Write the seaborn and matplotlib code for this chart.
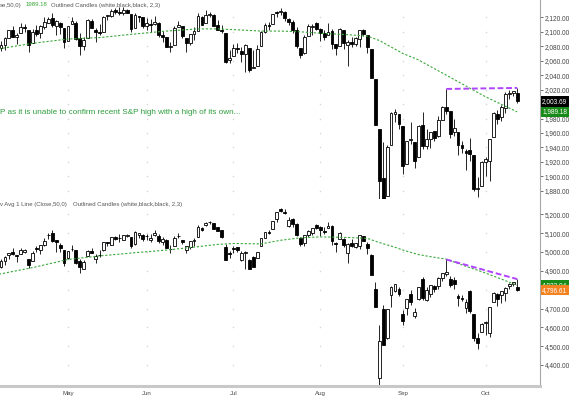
import numpy as np
import pandas as pd
import seaborn as sns
import matplotlib.pyplot as plt
from matplotlib.transforms import blended_transform_factory

# trading days shown (first one falls just off the left edge)
holidays = ['2015-05-25', '2015-07-03', '2015-09-07']

# ---- S&P 500 daily OHLC (Apr 7 .. Oct 13, 2015)
spx_open = [
    2080.8, 2076.9, 2081.3, 2091.5, 2102.0, 2092.3, 2097.8, 2106.0, 2102.6, 2084.1, 2102.8, 2098.3, 2107.2, 2112.8, 2119.3, 2108.4, 2112.5, 2105.5,
    2087.4, 2110.2, 2112.6, 2091.3, 2080.0, 2092.1, 2115.6, 2102.9, 2099.6, 2100.4, 2122.1, 2121.3, 2129.5, 2127.8, 2125.6, 2130.4, 2125.3, 2105.1, 2122.3, 2120.7,
    2108.6, 2110.4, 2110.6, 2112.4, 2095.1, 2092.3, 2079.1, 2081.1, 2106.2, 2107.4, 2091.3, 2084.3, 2097.4, 2101.6, 2121.1, 2112.5, 2123.2, 2123.7, 2110.0, 2102.6, 2098.6, 2061.2,
    2067.0, 2078.0, 2074.0, 2069.5, 2077.7, 2049.7, 2052.7, 2080.0, 2099.7, 2109.0, 2110.6, 2126.8, 2126.9, 2127.6, 2118.2, 2114.2, 2102.2, 2078.2, 2070.8, 2094.7, 2106.8, 2111.6,
    2104.5, 2097.7, 2095.3, 2100.8, 2082.6, 2081.0, 2102.7, 2081.1, 2086.2, 2083.2, 2089.7, 2102.0, 2095.7, 2076.6, 2034.1, 1965.2, 1898.1, 1872.8, 1942.8, 1986.1, 1986.7,
    1970.1, 1916.5, 1950.8, 1947.8, 1927.3, 1971.5, 1941.6, 1951.5, 1963.1, 1955.1, 1978.0, 1995.3, 1989.7, 1960.8, 1961.4, 1943.2, 1934.8, 1935.9, 1929.2, 1881.9, 1887.1,
    1919.7, 1921.8, 1954.3, 1986.6, 1982.3, 1994.0, 2013.7, 2015.7, 2015.0]
spx_high = [
    2089.8, 2086.7, 2093.3, 2102.6, 2107.7, 2098.6, 2111.9, 2111.3, 2102.6, 2103.9, 2109.6, 2110.0, 2120.5, 2120.9, 2125.9, 2116.0, 2113.7, 2105.5,
    2108.4, 2121.0, 2115.2, 2098.4, 2092.9, 2117.7, 2117.7, 2105.1, 2110.2, 2121.5, 2123.9, 2131.8, 2133.0, 2134.7, 2134.3, 2132.2, 2125.3, 2126.2, 2122.3, 2120.7,
    2119.2, 2117.6, 2121.9, 2112.9, 2101.0, 2093.0, 2085.6, 2108.5, 2115.0, 2107.4, 2091.3, 2097.4, 2106.8, 2126.7, 2121.6, 2129.9, 2128.0, 2125.1, 2116.0, 2108.9, 2098.6, 2074.3,
    2082.8, 2085.1, 2078.6, 2083.7, 2077.7, 2074.3, 2081.3, 2100.7, 2112.0, 2114.1, 2124.4, 2128.9, 2132.8, 2128.5, 2118.5, 2116.9, 2106.0, 2078.2, 2095.6, 2110.6, 2110.5, 2114.2,
    2105.7, 2102.5, 2112.7, 2103.3, 2082.6, 2105.4, 2102.7, 2089.1, 2092.9, 2092.5, 2102.9, 2103.5, 2096.2, 2076.6, 2034.1, 1965.2, 1948.0, 1943.1, 1989.6, 1993.5, 1986.7,
    1970.1, 1948.9, 1975.0, 1947.8, 1970.4, 1988.6, 1965.3, 1961.1, 1963.1, 1983.2, 1997.3, 2020.9, 1989.7, 1979.6, 1961.4, 1949.5, 1937.2, 1952.9, 1929.2, 1899.5, 1920.5,
    1927.2, 1951.4, 1989.2, 1991.6, 1999.3, 2016.5, 2020.1, 2018.7, 2022.3]
spx_low = [
    2076.1, 2073.3, 2074.3, 2091.5, 2092.3, 2083.2, 2097.8, 2100.0, 2072.4, 2084.1, 2094.4, 2091.1, 2103.2, 2112.8, 2107.0, 2094.9, 2097.4, 2077.6,
    2087.4, 2110.2, 2088.5, 2067.9, 2075.0, 2092.1, 2104.6, 2085.6, 2096.0, 2100.4, 2116.8, 2120.0, 2124.5, 2122.6, 2123.0, 2126.1, 2099.2, 2105.1, 2112.9, 2104.9,
    2102.5, 2099.1, 2109.6, 2093.2, 2085.7, 2079.1, 2072.1, 2081.1, 2106.2, 2091.3, 2072.5, 2082.1, 2088.9, 2101.6, 2109.5, 2112.5, 2119.9, 2108.6, 2101.8, 2098.1, 2056.6, 2056.3,
    2067.0, 2071.0, 2058.4, 2044.0, 2044.7, 2049.7, 2052.7, 2080.0, 2098.2, 2102.5, 2110.6, 2119.9, 2123.7, 2115.4, 2110.0, 2098.6, 2077.1, 2063.5, 2069.1, 2094.1, 2095.0, 2102.1,
    2087.3, 2088.6, 2095.3, 2075.5, 2067.9, 2081.0, 2076.5, 2052.1, 2078.3, 2080.6, 2079.3, 2094.1, 2070.5, 2035.7, 1970.9, 1867.0, 1867.1, 1872.8, 1942.8, 1975.2, 1966.0,
    1903.1, 1916.5, 1944.7, 1911.2, 1927.3, 1937.9, 1937.2, 1939.2, 1948.3, 1954.3, 1977.9, 1986.7, 1953.5, 1955.8, 1929.2, 1932.6, 1908.9, 1921.5, 1879.2, 1871.9, 1887.1,
    1900.7, 1893.7, 1954.3, 1972.0, 1976.4, 1987.5, 2007.6, 2010.6, 2001.8]
spx_close = [
    2076.33, 2081.90, 2091.18, 2102.06, 2092.43, 2095.84, 2106.63, 2104.99, 2081.18, 2100.40, 2097.29, 2107.96, 2112.93, 2117.69, 2108.92, 2114.76, 2106.85, 2085.51,
    2108.29, 2114.49, 2089.46, 2080.15, 2088.00, 2116.10, 2105.33, 2099.12, 2098.48, 2121.10, 2122.73, 2129.20, 2127.83, 2125.85, 2130.82, 2126.06, 2104.20, 2123.48, 2120.79, 2107.39,
    2111.73, 2109.60, 2114.07, 2095.84, 2092.83, 2079.28, 2080.15, 2105.20, 2108.86, 2094.11, 2084.43, 2096.29, 2100.44, 2121.24, 2109.99, 2122.85, 2124.20, 2108.58, 2102.31, 2101.49, 2057.64, 2063.11,
    2077.42, 2076.78, 2068.76, 2081.34, 2046.68, 2051.31, 2076.62, 2099.60, 2108.95, 2107.40, 2124.29, 2126.64, 2128.28, 2119.21, 2114.15, 2102.15, 2079.65, 2067.64, 2093.25, 2108.57, 2108.63, 2103.84,
    2098.04, 2093.32, 2099.84, 2083.56, 2077.57, 2104.18, 2084.07, 2086.05, 2083.39, 2091.54, 2102.44, 2096.92, 2079.61, 2035.73, 1970.89, 1893.21, 1867.61, 1940.51, 1987.66, 1988.87, 1972.18,
    1913.85, 1948.86, 1951.13, 1921.22, 1969.41, 1942.04, 1952.29, 1961.05, 1953.03, 1978.09, 1995.31, 1990.20, 1958.03, 1966.97, 1942.74, 1938.76, 1932.24, 1931.34, 1881.77, 1884.09, 1920.03,
    1923.82, 1951.36, 1987.05, 1979.92, 1995.83, 2013.43, 2014.89, 2017.46, 2003.69]

# ---- Nasdaq Composite daily OHLC
comp_open = [
    4923, 4918, 4950, 4983, 4999, 4983, 4989, 4998, 4961, 4953, 5019, 5013, 5036, 5089, 5101, 5062, 5036, 5011,
    4967, 5017, 5008, 4952, 4911, 4978, 5003, 4963, 4982, 5008, 5053, 5039, 5078, 5072, 5066, 5087, 5077, 5041, 5092, 5092,
    5085, 5066, 5088, 5083, 5052, 5066, 5016, 5030, 5086, 5061, 5013, 5027, 5057, 5081, 5128, 5143, 5160, 5152, 5130, 5115, 5027, 4996,
    5023, 5024, 4958, 4994, 4957, 4972, 4968, 5033, 5074, 5105, 5124, 5176, 5229, 5212, 5138, 5177, 5148, 5073, 5049, 5091, 5100, 5142,
    5133, 5110, 5125, 5140, 5050, 5070, 5068, 4997, 5046, 5026, 5034, 5084, 5044, 4982, 4805, 4330, 4696, 4545, 4771, 4793, 4802,
    4671, 4701, 4776, 4662, 4752, 4859, 4745, 4775, 4822, 4820, 4862, 4885, 4856, 4852, 4766, 4758, 4703, 4793, 4672, 4546, 4577,
    4625, 4571, 4734, 4776, 4769, 4781, 4818, 4829, 4816]
comp_high = [
    4947, 4962, 4978, 4996, 5020, 4986, 5022, 5017, 4961, 5003, 5032, 5039, 5073, 5100, 5119, 5065, 5049, 5011,
    5005, 5037, 5010, 4963, 4957, 5008, 5021, 4990, 5009, 5051, 5054, 5082, 5085, 5093, 5092, 5097, 5077, 5109, 5099, 5093,
    5093, 5096, 5117, 5094, 5078, 5069, 5036, 5084, 5099, 5064, 5032, 5059, 5075, 5143, 5133, 5161, 5164, 5156, 5134, 5119, 5040, 5007,
    5032, 5025, 5003, 5004, 4960, 4976, 5000, 5072, 5107, 5118, 5164, 5211, 5231, 5230, 5186, 5180, 5155, 5078, 5091, 5116, 5129, 5148,
    5136, 5132, 5161, 5142, 5051, 5104, 5073, 5047, 5068, 5050, 5092, 5085, 5054, 4990, 4841, 4611, 4719, 4698, 4817, 4830, 4813,
    4691, 4750, 4798, 4701, 4812, 4868, 4812, 4822, 4825, 4867, 4890, 4960, 4871, 4869, 4777, 4773, 4749, 4798, 4673, 4570, 4622,
    4632, 4708, 4785, 4780, 4794, 4812, 4837, 4840, 4856]
comp_low = [
    4909, 4915, 4933, 4963, 4986, 4949, 4988, 4994, 4914, 4953, 4999, 4991, 5033, 5069, 5053, 4999, 5002, 4923,
    4961, 5007, 4938, 4886, 4908, 4977, 4993, 4942, 4973, 5007, 5033, 5037, 5063, 5054, 5062, 5081, 5019, 5039, 5075, 5060,
    5061, 5055, 5086, 5045, 5037, 5020, 4996, 5030, 5074, 5044, 4994, 5016, 5033, 5080, 5111, 5140, 5148, 5122, 5112, 5076, 4958, 4969,
    4996, 4998, 4951, 4910, 4908, 4920, 4968, 5033, 5074, 5093, 5124, 5158, 5210, 5202, 5135, 5135, 5085, 5030, 5034, 5082, 5089, 5124,
    5084, 5094, 5125, 5036, 5000, 5070, 5025, 4943, 5025, 5023, 5015, 5059, 4988, 4877, 4706, 4292, 4506, 4538, 4710, 4787, 4764,
    4615, 4665, 4716, 4652, 4744, 4747, 4738, 4762, 4785, 4803, 4845, 4874, 4814, 4804, 4715, 4740, 4675, 4677, 4530, 4487, 4577,
    4557, 4551, 4734, 4711, 4727, 4740, 4804, 4821, 4794]
comp_close = [
    4910.23, 4950.82, 4974.56, 4995.98, 4988.25, 4977.29, 5011.02, 5007.79, 4931.81, 4994.60, 5014.10, 5035.17, 5056.06, 5092.08, 5060.25, 5055.42, 5023.64, 4941.42,
    5005.39, 5016.93, 4939.33, 4919.64, 4945.54, 5003.55, 4993.57, 4976.19, 4981.69, 5050.80, 5048.29, 5078.44, 5070.03, 5071.74, 5090.79, 5089.36, 5032.75, 5106.59, 5097.98, 5070.03,
    5082.93, 5076.69, 5099.23, 5059.12, 5068.46, 5021.63, 5013.87, 5076.52, 5082.51, 5051.10, 5029.97, 5055.55, 5064.88, 5132.95, 5117.00, 5153.97, 5160.09, 5122.41, 5112.19, 5080.51, 4958.47, 4986.87,
    5013.12, 5009.21, 4991.94, 4997.46, 4909.76, 4922.40, 4997.70, 5071.51, 5104.89, 5098.94, 5163.18, 5210.14, 5218.86, 5208.12, 5171.77, 5146.41, 5088.63, 5039.78, 5089.21, 5111.73, 5128.79, 5128.28,
    5115.38, 5105.55, 5139.94, 5056.44, 5043.54, 5101.80, 5036.79, 5044.39, 5033.56, 5048.24, 5091.70, 5059.35, 5019.05, 4877.49, 4706.04, 4526.25, 4506.49, 4697.54, 4812.71, 4828.33, 4776.51,
    4636.10, 4749.98, 4733.50, 4683.92, 4811.93, 4756.53, 4796.25, 4822.34, 4805.76, 4860.52, 4889.24, 4893.95, 4827.23, 4828.95, 4756.72, 4752.74, 4734.48, 4686.50, 4543.97, 4517.32, 4620.16,
    4627.08, 4707.78, 4781.26, 4748.36, 4791.15, 4810.79, 4830.47, 4838.64, 4796.61]

# 50-day moving averages at these dates
ma_dates = ['2015-04-07', '2015-04-20', '2015-05-01', '2015-05-13', '2015-05-27', '2015-06-08',
            '2015-06-18', '2015-06-25', '2015-07-01', '2015-07-13', '2015-07-20', '2015-07-27',
            '2015-08-03', '2015-08-12', '2015-08-19', '2015-08-24', '2015-08-28', '2015-09-01',
            '2015-09-08', '2015-09-11', '2015-09-17', '2015-09-24', '2015-10-01', '2015-10-08',
            '2015-10-13']
spx_ma = [2076, 2084, 2090, 2092, 2097, 2101, 2104, 2104, 2103, 2101, 2101, 2100, 2098,
          2096, 2094, 2088, 2076, 2070, 2061, 2052, 2040, 2025, 2010, 1997, 1989.18]
comp_ma = [4880, 4917, 4960, 4979, 4996, 5010, 5028, 5040, 5045, 5043, 5062, 5075, 5080,
           5077, 5072, 5050, 5025, 5010, 4986, 4975, 4962, 4924, 4888, 4848, 4823.04]

# trendline: Sep 17 high to latest high
trend_dates = ['2015-09-17', '2015-10-13']

spx_ticks = [1880, 1900, 1920, 1940, 1960, 1980, 2000, 2020, 2040, 2060, 2080, 2100, 2120]
comp_ticks = [4400, 4500, 4600, 4700, 4800, 4900, 5000, 5100, 5200]
# levels whose labels sit under the last-price tags
spx_hidden = [2000]
comp_hidden = [4800]

for arr in (spx_open, spx_high, spx_low, spx_close, comp_open, comp_high, comp_low, comp_close):
    assert len(arr) == 133, len(arr)

days = pd.bdate_range('2015-04-07', '2015-10-13')
days = days[~days.isin(pd.to_datetime(holidays))]

sns.set_theme(style='white')
plt.rcParams['font.family'] = ['Liberation Sans', 'DejaVu Sans']

W, H = 569, 398
fig = plt.figure(figsize=(W / 100, H / 100), dpi=100)
ax1 = fig.add_axes([0, (H - 199) / H, 540 / W, 199 / H])
ax2 = fig.add_axes([0, (H - 386) / H, 540 / W, (386 - 199) / H])

ma_green = '#3aa83a'
purple = '#b044ff'
grey_txt = '#444444'

month_pos = np.where(days.month[1:] != days.month[:-1])[0] + 1
step = np.diff(month_pos).mean() / 5
minor_pos = []
for a, b in zip(month_pos[:-1], month_pos[1:]):
    minor_pos += list(np.linspace(a, b, 6)[1:-1])
minor_pos += [month_pos[0] - k * step for k in range(1, 5)]
minor_pos += [month_pos[-1] + k * step for k in range(1, 4)]


def candles(ax, o, h, l, c):
    o, h, l, c = map(np.asarray, (o, h, l, c))
    x = np.arange(len(c))
    up = c >= o
    ax.vlines(x, l, h, color='black', lw=0.6, zorder=2)
    ax.bar(x, c - o, bottom=o, width=0.72,
           color=np.where(up, 'white', 'black'), edgecolor='black',
           linewidth=0.6, zorder=3)


def panel(ax, o, h, l, c, ma, ticks, hidden, ylim):
    candles(ax, o, h, l, c)
    ma_x = days.get_indexer(pd.to_datetime(ma_dates))
    sns.lineplot(x=ma_x, y=ma, ax=ax, color=ma_green, lw=0.8,
                 linestyle=(0, (2, 1.6)), zorder=4)
    tx = days.get_indexer(pd.to_datetime(trend_dates))
    sns.lineplot(x=tx, y=np.asarray(h)[tx], ax=ax, color=purple, lw=1.4,
                 linestyle=(0, (3, 1.4)), zorder=5)

    ax.set_xlim(0.74, 137.8)
    ax.set_ylim(*ylim)
    # faint grid marks where month lines meet price levels
    gx, gy = np.meshgrid(month_pos, ticks)
    ax.scatter(gx.ravel(), gy.ravel(), marker='+', s=2.5, lw=0.4,
               color='#d9d9d9', zorder=1)

    ax.yaxis.tick_right()
    ax.set_yticks(ticks)
    ax.set_yticklabels(['' if t in hidden else '{:,.2f}'.format(t) for t in ticks])
    ax.tick_params(axis='y', labelsize=4.7, colors='#555555', labelcolor=grey_txt,
                   length=2, width=0.6, pad=1.2, direction='out')
    for s in ('top', 'left', 'bottom'):
        ax.spines[s].set_visible(False)
    ax.spines['right'].set_color('#a8a8a8')
    ax.spines['right'].set_linewidth(0.8)
    ax.set_xlabel('')
    ax.set_ylabel('')


panel(ax1, spx_open, spx_high, spx_low, spx_close, spx_ma, spx_ticks, spx_hidden,
      (1868.6, 2144))
panel(ax2, comp_open, comp_high, comp_low, comp_close, comp_ma, comp_ticks, comp_hidden,
      (4288.8, 5281))

ax1.set_xticks([])
ax2.set_xticks(month_pos)
ax2.set_xticklabels(days[month_pos].strftime('%b'))
ax2.set_xticks(minor_pos, minor=True)
ax2.tick_params(axis='x', which='both', labelsize=4.4, labelcolor=grey_txt,
                colors='#a0a0a0', length=2.5, width=0.6, pad=1.0, direction='out')
ax2.spines['bottom'].set_visible(True)
ax2.spines['bottom'].set_color('#c8c8c8')
ax2.spines['bottom'].set_linewidth(2.2)


def price_tag(ax, value, fc):
    tr = blended_transform_factory(ax.transAxes, ax.transData)
    ax.text(1.004, value, '{:,.2f}'.format(value), transform=tr, fontsize=4.7,
            color='white', ha='left', va='center', clip_on=False, zorder=10,
            bbox=dict(boxstyle='square,pad=0.25', fc=fc, ec='none'))


price_tag(ax1, spx_close[-1], 'black')
price_tag(ax1, spx_ma[-1], '#178a17')
price_tag(ax2, comp_ma[-1], '#178a17')
price_tag(ax2, comp_close[-1], '#f58220')

# panel captions (cut off on the left like the source)
cap = 4.35
fig.text(0 / W, 1 - 5 / H, 'se,50,0)', fontsize=cap, color='#555555', va='center')
fig.text(26 / W, 1 - 5 / H, '1989.18', fontsize=cap, color=ma_green, va='center')
fig.text(51 / W, 1 - 5 / H, 'Outlined Candles (white,black,black, 2,3)', fontsize=cap,
         color='#555555', va='center')
fig.text(0 / W, 1 - 205 / H, 'v Avg 1 Line (Close,50,0)', fontsize=cap,
         color='#555555', va='center')
fig.text(73 / W, 1 - 205 / H, 'Outlined Candles (white,black,black, 2,3)', fontsize=cap,
         color='#555555', va='center')
fig.text(0 / W, 1 - 112 / H,
         'P as it is unable to confirm recent S&P high with a high of its own...',
         fontsize=5.9, color='#2f9e3f', va='center')

fig.savefig('out.png', dpi=100, facecolor='white')
